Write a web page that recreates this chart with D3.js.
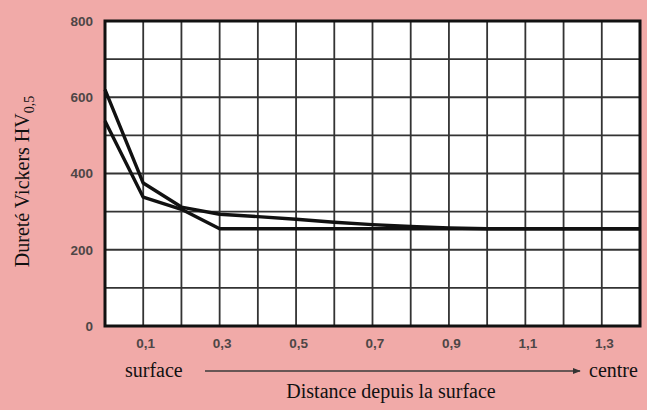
<!DOCTYPE html>
<html>
<head>
<meta charset="utf-8">
<script src="https://cdn.jsdelivr.net/npm/d3@7"></script>
<style>
  html, body { margin: 0; padding: 0; background: #f1aaa8; }
  svg { display: block; }
  .tick-label { font-family: "Liberation Sans", Arial, sans-serif; font-weight: bold; font-size: 13.5px; fill: #4e4646; }
  .serif { font-family: "Liberation Serif", "DejaVu Serif", serif; font-size: 20px; fill: #111; }
</style>
</head>
<body>
<div id="chart"></div>
<script>
const WIDTH = 647;
const HEIGHT = 410;
const MARGIN = { top: 21, right: 7, bottom: 84, left: 105 };

// distances (mm) and hardness values for the two profiles
const distanceA = [0, 0.1, 0.2, 0.3, 0.4, 0.5, 0.6, 0.7, 0.8, 0.9, 1.0, 1.4];
const hardnessA = [620, 375, 312, 293, 287, 280, 272, 266, 261, 257, 255, 255];
const distanceB = [0, 0.1, 0.2, 0.3, 1.4];
const hardnessB = [538, 338, 306, 255, 255];

const xTicks = [0.1, 0.3, 0.5, 0.7, 0.9, 1.1, 1.3];
const yTicks = [0, 200, 400, 600, 800];

const svg = d3.select("#chart")
  .append("svg")
  .attr("width", WIDTH)
  .attr("height", HEIGHT);

const x = d3.scaleLinear().domain([0, 1.4]).range([MARGIN.left, WIDTH - MARGIN.right]);
const y = d3.scaleLinear().domain([0, 800]).range([HEIGHT - MARGIN.bottom, MARGIN.top]);

svg.append("rect")
  .attr("x", x(0))
  .attr("y", y(800))
  .attr("width", x(1.4) - x(0))
  .attr("height", y(0) - y(800))
  .attr("fill", "#fff");

// grid
const grid = svg.append("g").attr("stroke", "#333").attr("stroke-width", 1.8);
grid.selectAll("line.v")
  .data(d3.range(1, 14).map((i) => i / 10))
  .join("line")
  .attr("x1", (d) => x(d)).attr("x2", (d) => x(d))
  .attr("y1", y(800)).attr("y2", y(0));
grid.selectAll("line.h")
  .data(d3.range(1, 8).map((i) => i * 100))
  .join("line")
  .attr("class", "h")
  .attr("x1", x(0)).attr("x2", x(1.4))
  .attr("y1", (d) => y(d)).attr("y2", (d) => y(d));

// curves
const line = d3.line().x((d) => x(d[0])).y((d) => y(d[1]));
[[distanceA, hardnessA], [distanceB, hardnessB]].forEach(([xs, ys]) => {
  svg.append("path")
    .datum(xs.map((d, i) => [d, ys[i]]))
    .attr("d", line)
    .attr("fill", "none")
    .attr("stroke", "#111")
    .attr("stroke-width", 3.4)
    .attr("stroke-linejoin", "round");
});

// frame
svg.append("rect")
  .attr("x", x(0))
  .attr("y", y(800))
  .attr("width", x(1.4) - x(0))
  .attr("height", y(0) - y(800))
  .attr("fill", "none")
  .attr("stroke", "#111")
  .attr("stroke-width", 3);

// axes (labels only)
const yAxis = svg.append("g")
  .attr("transform", `translate(${x(0) - 12},0)`)
  .call(d3.axisLeft(y).tickValues(yTicks).tickSize(0).tickPadding(0));
yAxis.select(".domain").remove();
yAxis.selectAll("text").attr("class", "tick-label").attr("fill", null);

const xAxis = svg.append("g")
  .attr("transform", `translate(2,${y(0) + 12})`)
  .call(d3.axisBottom(x).tickValues(xTicks).tickSize(0).tickPadding(0)
    .tickFormat((d) => String(d).replace(".", ",")));
xAxis.select(".domain").remove();
xAxis.selectAll("text").attr("class", "tick-label").attr("fill", null);

// y title
const yTitle = svg.append("text")
  .attr("class", "serif")
  .attr("transform", `translate(29,${(y(0) + y(800)) / 2 + 8}) rotate(-90)`)
  .attr("text-anchor", "middle");
yTitle.append("tspan").text("Dureté Vickers HV");
yTitle.append("tspan").attr("dy", 5).attr("font-size", 14).text("0,5");

// bottom annotations
svg.append("defs").append("marker")
  .attr("id", "arrow")
  .attr("viewBox", "0 0 10 10")
  .attr("refX", 9).attr("refY", 5)
  .attr("markerWidth", 5).attr("markerHeight", 5)
  .attr("orient", "auto")
  .append("path").attr("d", "M0,1 L10,5 L0,9 Z").attr("fill", "#333");

svg.append("line")
  .attr("x1", 205).attr("x2", 580)
  .attr("y1", 371).attr("y2", 371)
  .attr("stroke", "#3a3a3a").attr("stroke-width", 1.6)
  .attr("marker-end", "url(#arrow)");

svg.append("text").attr("class", "serif").attr("x", 125).attr("y", 377).text("surface");
svg.append("text").attr("class", "serif").attr("x", 589).attr("y", 377).text("centre");
svg.append("text").attr("class", "serif").attr("x", 391).attr("y", 398)
  .attr("text-anchor", "middle").text("Distance depuis la surface");
</script>
</body>
</html>
